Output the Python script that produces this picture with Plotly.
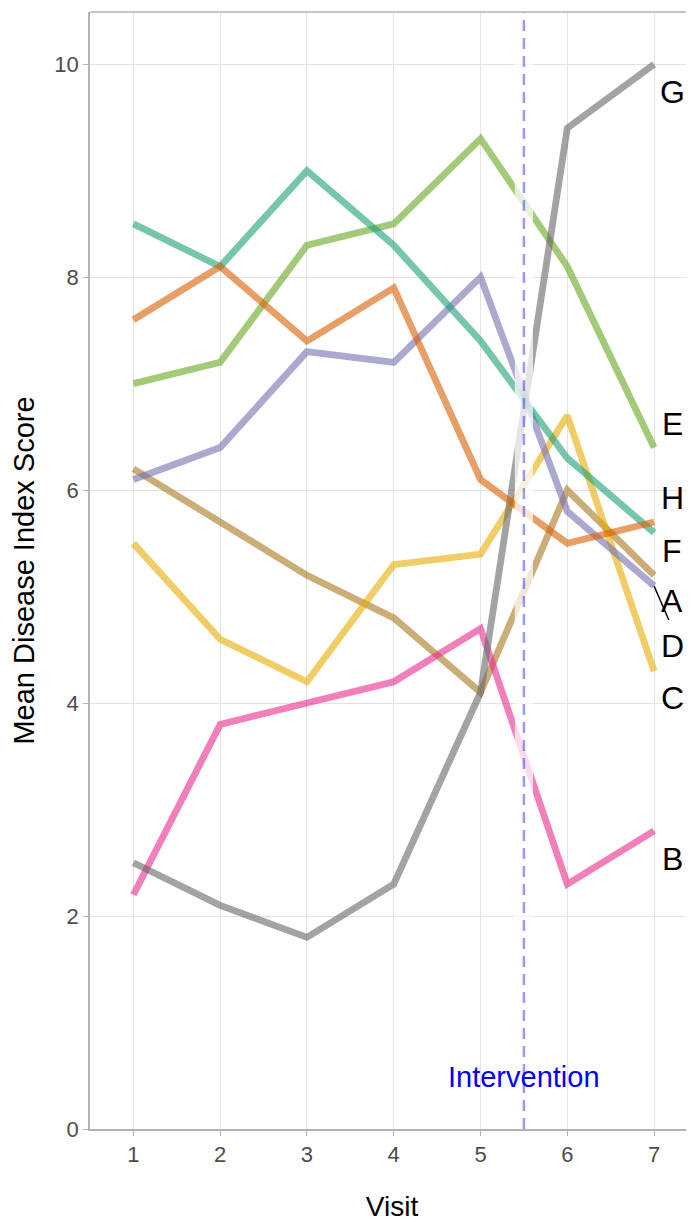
import plotly.graph_objects as go

visits = [1, 2, 3, 4, 5, 6, 7]
series_names = ["A", "B", "C", "D", "E", "F", "G", "H"]
A = [6.2, 5.7, 5.2, 4.8, 4.1, 6.0, 5.2]
B = [2.2, 3.8, 4.0, 4.2, 4.7, 2.3, 2.8]
C = [5.5, 4.6, 4.2, 5.3, 5.4, 6.7, 4.3]
D = [6.1, 6.4, 7.3, 7.2, 8.0, 5.8, 5.1]
E = [7.0, 7.2, 8.3, 8.5, 9.3, 8.1, 6.4]
F = [8.5, 8.1, 9.0, 8.3, 7.4, 6.3, 5.6]
G = [2.5, 2.1, 1.8, 2.3, 4.1, 9.4, 10.0]
H = [7.6, 8.1, 7.4, 7.9, 6.1, 5.5, 5.7]
values = {"A": A, "B": B, "C": C, "D": D, "E": E, "F": F, "G": G, "H": H}

intervention_visit = 5.5
y_ticks = [0, 2, 4, 6, 8, 10]

colors = {
    "A": "rgba(166,118,29,0.6)",
    "B": "rgba(231,41,138,0.6)",
    "C": "rgba(230,171,2,0.6)",
    "D": "rgba(117,112,179,0.6)",
    "E": "rgba(102,166,30,0.6)",
    "F": "rgba(27,158,119,0.6)",
    "G": "rgba(102,102,102,0.6)",
    "H": "rgba(217,95,2,0.6)",
}

# repelled label placement (layout)
label_x = 7.21
label_y = {"G": 9.74, "E": 6.62, "H": 5.93, "F": 5.43, "A": 4.96,
           "D": 4.54, "C": 4.05, "B": 2.54}

FONT = "Liberation Sans, Arial, sans-serif"

fig = go.Figure()
for name in series_names:
    fig.add_trace(go.Scatter(
        x=visits, y=values[name], mode="lines", name=name,
        line=dict(color=colors[name], width=6.8), showlegend=False,
        hoverinfo="skip"))

annotations = []
for name in series_names:
    annotations.append(dict(x=label_x, y=label_y[name], text=name,
                            showarrow=False, xref="x", yref="y",
                            font=dict(family=FONT, size=32, color="black"),
                            xanchor="center", yanchor="middle"))
annotations.append(dict(x=intervention_visit, y=0.49, text="Intervention",
                        showarrow=False, xref="x", yref="y",
                        font=dict(family=FONT, size=29, color="#0000ff"),
                        xanchor="center", yanchor="middle"))

shapes = [
    dict(type="rect", xref="x", yref="paper", x0=intervention_visit - 0.105,
         x1=intervention_visit + 0.105, y0=0, y1=1, fillcolor="white",
         opacity=0.72, line=dict(width=0), layer="above"),
    dict(type="line", xref="x", yref="paper", x0=intervention_visit,
         x1=intervention_visit, y0=0, y1=1,
         line=dict(color="rgba(0,0,255,0.4)", width=2.5, dash="11px,7px"),
         layer="above"),
    dict(type="line", xref="paper", yref="paper", x0=0, x1=1, y0=1, y1=1,
         line=dict(color="#b3b3b3", width=1.5), layer="above"),
    # repel segment for D
    dict(type="line", xref="x", yref="y", x0=visits[-1], y0=D[-1],
         x1=label_x - 0.04, y1=label_y["D"] + 0.24,
         line=dict(color="black", width=1.5), layer="above"),
]

# the page body has an 8px margin, so the figure is sized/offset for it
fig.update_layout(
    width=686, height=1214,
    margin=dict(l=82, r=0, t=4, b=93),
    paper_bgcolor="white", plot_bgcolor="white",
    font=dict(family=FONT),
    annotations=annotations, shapes=shapes,
    xaxis=dict(range=[0.5, 7.46], tickvals=visits, ticktext=[str(v) for v in visits],
               showgrid=True, gridcolor="#e3e3e3", gridwidth=1,
               showline=True, linecolor="#b3b3b3", linewidth=1.5,
               ticks="outside", ticklen=5, tickcolor="#b3b3b3", tickwidth=1.2,
               tickfont=dict(size=22, color="#4d4d4d"), zeroline=False,
               title=dict(text="Visit", font=dict(size=28, color="black"), standoff=30),
               automargin=False),
    yaxis=dict(range=[0, 10.49], tickvals=y_ticks, ticktext=[str(v) for v in y_ticks],
               showgrid=True, gridcolor="#e3e3e3", gridwidth=1,
               showline=True, linecolor="#b3b3b3", linewidth=1.5,
               ticks="outside", ticklen=5, tickcolor="#b3b3b3", tickwidth=1.2,
               tickfont=dict(size=22, color="#4d4d4d"), zeroline=False,
               title=dict(text="Mean Disease Index Score", font=dict(size=29, color="black"),
                          standoff=14),
               automargin=False),
)

fig.write_html("out.html")
